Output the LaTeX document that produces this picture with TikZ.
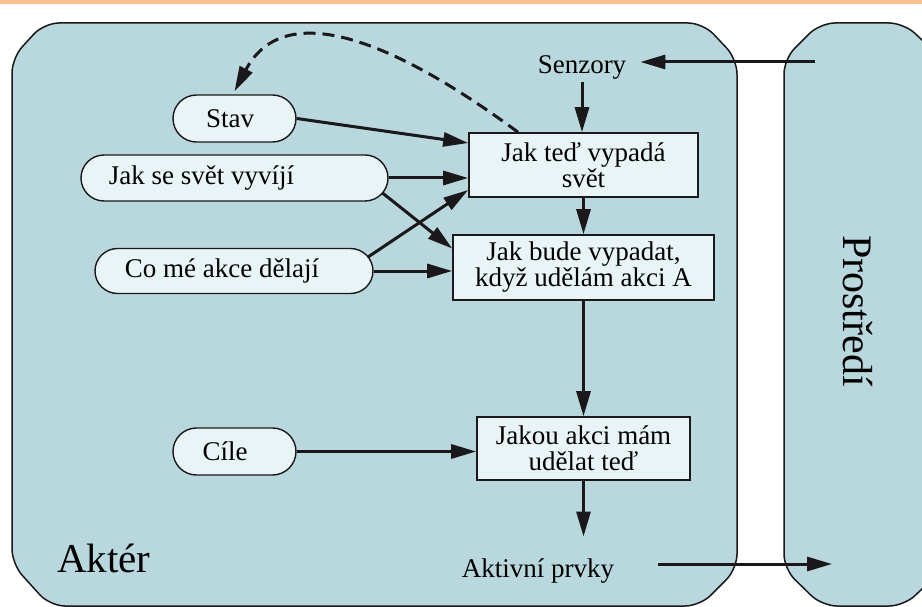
\documentclass[tikz,border=0pt]{standalone}
\usepackage{fontspec}
\setmainfont{Liberation Serif}
\usetikzlibrary{shapes.misc,arrows.meta,calc}
\definecolor{panel}{RGB}{185,216,222}
\definecolor{boxfill}{RGB}{233,244,246}
\definecolor{strip}{RGB}{250,193,142}
\definecolor{ink}{RGB}{26,24,26}

\begin{document}
\begin{tikzpicture}[x=1pt,y=-1pt,
  capsule/.style={rounded rectangle, draw=ink, line width=1.4pt, fill=boxfill,
    minimum height=46pt, inner sep=0pt, font=\fontsize{27}{26}\selectfont},
  panelbox/.style={rectangle, draw=ink, line width=1.6pt, fill=boxfill, align=center,
    inner sep=0pt, font=\fontsize{27}{26}\selectfont},
  tag/.style={inner sep=3pt, font=\fontsize{27}{26}\selectfont},
  arr/.style={draw=ink, line width=3pt, -{Triangle[length=25pt,width=14pt]}},
  frame/.style={draw=ink, line width=1.5pt, fill=panel, rounded corners=15pt}]

\useasboundingbox (0,0) rectangle (922,607);
\clip (0,0) rectangle (922,607);
\fill[strip] (0,0) rectangle (922,4);

% agent and environment panels
\draw[frame] (12,58) -- (44,23) -- (703,23) -- (737,59) -- (737,569) -- (700,606)
  -- (50,606) -- (12,564) -- cycle;
\draw[frame] (784,59) -- (820,23) -- (904,23) -- (940,57) -- (940,572) -- (904,606)
  -- (822,606) -- (784,569) -- cycle;

\node[font=\fontsize{41}{41}\selectfont, anchor=base west, inner sep=0pt] (akter) at (57,572) {Aktér};
\node[font=\fontsize{42}{42}\selectfont, rotate=-90, inner sep=0pt] (prostredi) at (858,311) {Prostředí};

% knowledge capsules
\node[capsule, minimum width=123pt, minimum height=47pt] (stav) at (234.5,118.5) {Stav\hspace*{9pt}};
\node[capsule, minimum width=307pt] (vyviji) at (234.5,178) {Jak se svět vyvíjí\hspace*{66pt}};
\node[capsule, minimum width=278pt, minimum height=45pt] (akce) at (234,271) {Co mé akce dělají\hspace*{24pt}};
\node[capsule, minimum width=123pt, minimum height=47pt] (cile) at (234.5,451.5) {Cíle\hspace*{19pt}};

% reasoning boxes
\node[panelbox, minimum width=229pt, minimum height=64pt] (ted) at (583.5,165) {Jak teď vypadá\\svět};
\node[panelbox, minimum width=261pt, minimum height=65pt] (bude) at (583.5,267.5) {Jak bude vypadat,\\když udělám akci A};
\node[panelbox, minimum width=213pt, minimum height=63pt] (jakou) at (583.5,448.5) {Jakou akci mám\\udělat teď};

% sensors and actuators
\node[tag] (senzory) at (582,67) {Senzory};
\node[tag] (aktivni) at (538,571) {Aktivní prvky};
\coordinate (envin) at (815,62);
\coordinate (envout) at (832,564);

% connectors
\draw[arr, shorten >=11pt] (envin) -- (envin -| senzory.east);
\draw[arr] (senzory.south) -- (senzory.south |- ted.north);
\draw[arr] (stav.east) -- ([yshift=22pt]ted.west);
\draw[arr] (vyviji.east) -- (vyviji.east -| ted.west);
\draw[arr] ([xshift=134pt,yshift=14pt]akce.center) -- ([yshift=-25pt]ted.west);
\draw[arr] ([xshift=148pt,yshift=-15pt]vyviji.center) -- ([yshift=19pt]bude.west);
\draw[arr] (akce.east) -- (akce.east -| bude.west);
\draw[arr] (ted) -- (bude);
\draw[arr] (bude) -- (jakou);
\draw[arr] (cile.east) -- (cile.east -| jakou.west);
\draw[arr, shorten >=19pt] (jakou.south) -- (jakou.south |- aktivni.north);
\draw[arr, shorten <=41pt] (aktivni.east |- envout) -- (envout);
\draw[arr, dash pattern=on 12pt off 7pt] ([xshift=-65.5pt]ted.north)
  .. controls (407,50) and (287,-8) .. ([yshift=3pt]stav.north);
\end{tikzpicture}
\end{document}
